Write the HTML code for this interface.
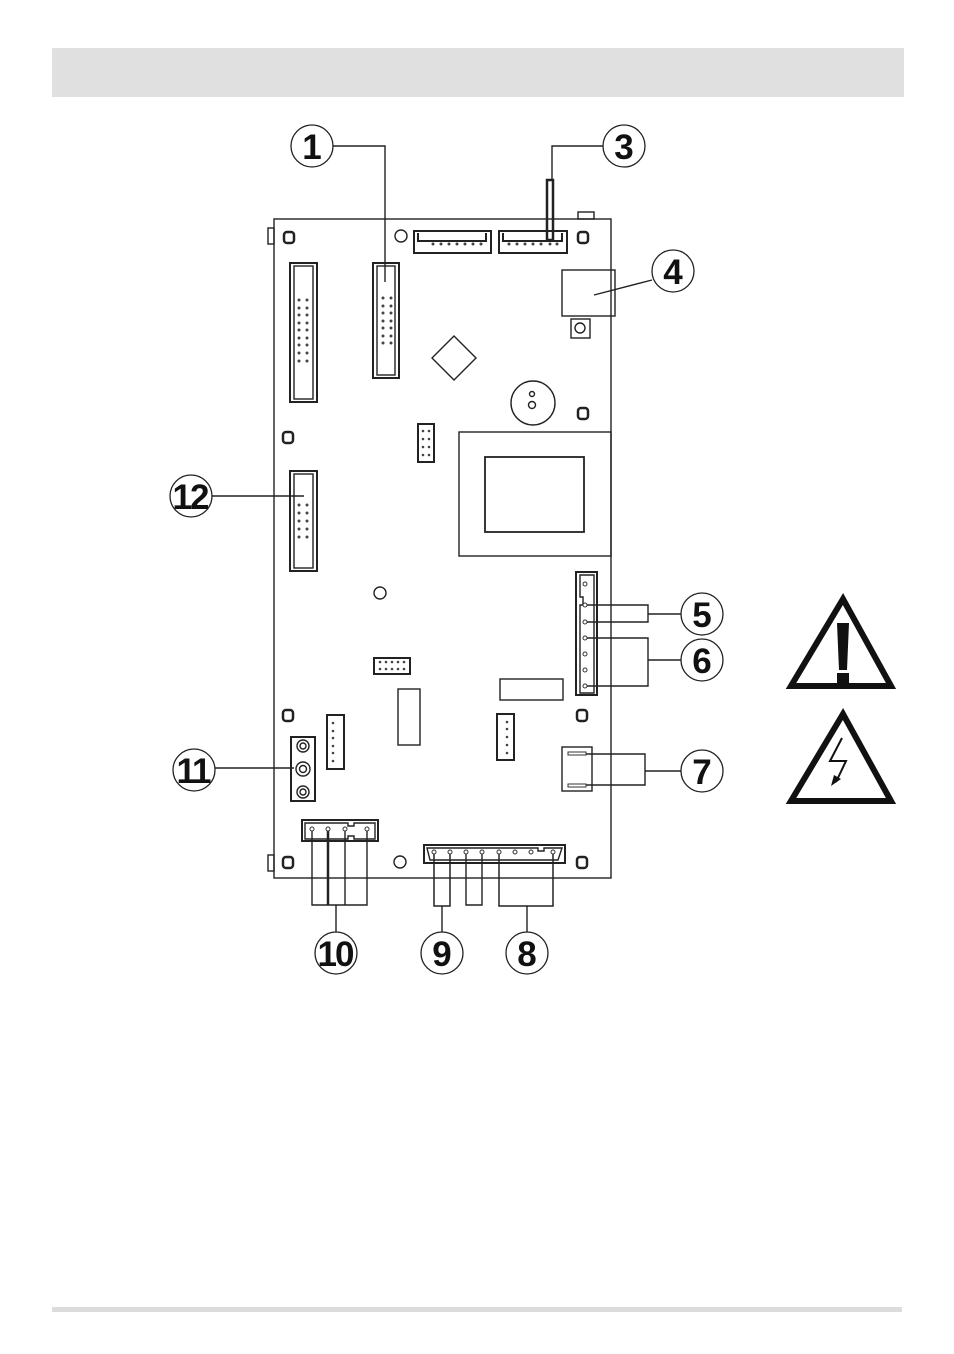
<!DOCTYPE html>
<html><head><meta charset="utf-8"><style>
html,body{margin:0;padding:0;background:#fff;}
svg{display:block;}
text{font-family:"Liberation Sans",sans-serif;font-weight:bold;}
</style></head><body>
<svg width="954" height="1354" viewBox="0 0 954 1354" xmlns="http://www.w3.org/2000/svg">
<rect x="52" y="48" width="852" height="49" fill="#e0e0e0"/>
<rect x="52" y="1307" width="850" height="5" fill="#dcdcdc"/>
<g fill="none" stroke="#222" stroke-width="1.4">
<rect x="274" y="219" width="337" height="659" fill="#fff"/>
<rect x="578" y="212" width="16" height="7"/>
<rect x="268" y="228" width="6" height="16"/>
<rect x="268" y="855" width="6" height="16"/>
<g stroke-width="2.5">
<rect x="284" y="232" width="10" height="11" rx="3"/>
<rect x="578" y="232" width="10" height="11" rx="3"/>
<rect x="578" y="408" width="10" height="11" rx="3"/>
<rect x="283" y="432" width="10" height="11" rx="3"/>
<rect x="283" y="710" width="10" height="11" rx="3"/>
<rect x="577" y="710" width="10" height="11" rx="3"/>
<rect x="283" y="857" width="10" height="11" rx="3"/>
<rect x="577" y="857" width="10" height="11" rx="3"/>
</g>
<circle cx="401" cy="236" r="6"/>
<circle cx="380" cy="593" r="6"/>
<circle cx="400" cy="862" r="6"/>
<path d="M414 231h77v22h-77z M418 233v8h68v-8" stroke-width="2"/>
<path d="M499 231h68v22h-68z M503 233v8h59v-8" stroke-width="2"/>
<rect x="547" y="180" width="6" height="60" stroke-width="2.5"/>
<polyline points="603,146 552,146 552,180"/>
<rect x="290" y="263" width="27" height="139" stroke-width="2"/>
<rect x="294" y="266" width="19" height="133"/>
<rect x="373" y="263" width="26" height="115" stroke-width="2"/>
<rect x="377" y="266" width="18" height="109"/>
<rect x="290" y="471" width="27" height="100" stroke-width="2"/>
<rect x="294" y="474" width="19" height="94"/>
<polyline points="333,146 385,146 385,282"/>
<rect x="562" y="270" width="53" height="46"/>
<rect x="571" y="319" width="19" height="19"/>
<circle cx="580" cy="328" r="5"/>
<line x1="594" y1="295" x2="652" y2="280"/>
<polygon points="454,336 476,358 454,380 432,358"/>
<circle cx="533" cy="403" r="22"/>
<circle cx="532" cy="394" r="2.5"/>
<circle cx="532" cy="405" r="3.5"/>
<rect x="418" y="424" width="16" height="38" stroke-width="2"/>
<rect x="459" y="432" width="152" height="124"/>
<rect x="485" y="457" width="99" height="75" stroke-width="1.8"/>
<line x1="212" y1="496" x2="304" y2="496"/>
<path d="M576 572h21v123h-21z" stroke-width="2"/>
<path d="M580 575h14v118h-14v-88h3v-8h-3z"/>
<polyline points="584,605 648,605 648,622 584,622"/>
<line x1="648" y1="614" x2="681" y2="614"/>
<polyline points="584,638 648,638 648,686 584,686"/>
<line x1="648" y1="660" x2="681" y2="660"/>
<rect x="500" y="679" width="63" height="21"/>
<rect x="374" y="658" width="36" height="16" stroke-width="2"/>
<rect x="398" y="689" width="22" height="56"/>
<rect x="327" y="715" width="17" height="54" stroke-width="2"/>
<rect x="497" y="714" width="17" height="46" stroke-width="2"/>
<rect x="562" y="747" width="30" height="44"/>
<polyline points="568,754 645,754 645,785 568,785"/>
<line x1="645" y1="771" x2="681" y2="771"/>
<rect x="291" y="737" width="24" height="64" stroke-width="2"/>
<circle cx="303" cy="746" r="6"/><circle cx="303" cy="746" r="3"/>
<circle cx="303" cy="769" r="7"/><circle cx="303" cy="769" r="3.5"/>
<circle cx="303" cy="792" r="6"/><circle cx="303" cy="792" r="3"/>
<line x1="215" y1="768" x2="294" y2="768"/>
<path d="M302 820h76v21h-76z" stroke-width="2"/>
<path d="M305 823h43v3h6v-3h21v16h-21v-3h-6v3h-43z"/>
<polyline points="312,829 312,905 367,905 367,829"/>
<line x1="328" y1="829" x2="328" y2="905" stroke-width="2.5"/>
<line x1="345" y1="829" x2="345" y2="905"/>
<line x1="336" y1="905" x2="336" y2="932"/>
<path d="M424 845h141v18h-141z" stroke-width="2"/>
<path d="M427 848h111v3h6v-3h18l-4 12h-128z"/>
<polyline points="434,852 434,906 450,906 450,852" stroke-width="1.5"/>
<polyline points="466,852 466,905 482,905 482,852"/>
<polyline points="499,852 499,906 553,906 553,852" stroke-width="1.5"/>
<line x1="442" y1="906" x2="442" y2="932"/>
<line x1="527" y1="906" x2="527" y2="932"/>
</g>
<g fill="#444">
<circle cx="299" cy="300" r="1.5"/><circle cx="307" cy="300" r="1.5"/>
<circle cx="299" cy="308" r="1.5"/><circle cx="307" cy="308" r="1.5"/>
<circle cx="299" cy="315" r="1.5"/><circle cx="307" cy="315" r="1.5"/>
<circle cx="299" cy="323" r="1.5"/><circle cx="307" cy="323" r="1.5"/>
<circle cx="299" cy="330" r="1.5"/><circle cx="307" cy="330" r="1.5"/>
<circle cx="299" cy="338" r="1.5"/><circle cx="307" cy="338" r="1.5"/>
<circle cx="299" cy="345" r="1.5"/><circle cx="307" cy="345" r="1.5"/>
<circle cx="299" cy="353" r="1.5"/><circle cx="307" cy="353" r="1.5"/>
<circle cx="299" cy="361" r="1.5"/><circle cx="307" cy="361" r="1.5"/>
<circle cx="383" cy="298" r="1.5"/><circle cx="391" cy="298" r="1.5"/>
<circle cx="383" cy="306" r="1.5"/><circle cx="391" cy="306" r="1.5"/>
<circle cx="383" cy="313" r="1.5"/><circle cx="391" cy="313" r="1.5"/>
<circle cx="383" cy="321" r="1.5"/><circle cx="391" cy="321" r="1.5"/>
<circle cx="383" cy="328" r="1.5"/><circle cx="391" cy="328" r="1.5"/>
<circle cx="383" cy="336" r="1.5"/><circle cx="391" cy="336" r="1.5"/>
<circle cx="383" cy="343" r="1.5"/><circle cx="391" cy="343" r="1.5"/>
<circle cx="299" cy="505" r="1.5"/><circle cx="307" cy="505" r="1.5"/>
<circle cx="299" cy="513" r="1.5"/><circle cx="307" cy="513" r="1.5"/>
<circle cx="299" cy="521" r="1.5"/><circle cx="307" cy="521" r="1.5"/>
<circle cx="299" cy="529" r="1.5"/><circle cx="307" cy="529" r="1.5"/>
<circle cx="299" cy="537" r="1.5"/><circle cx="307" cy="537" r="1.5"/>
<circle cx="433" cy="244" r="1.5"/><circle cx="441" cy="244" r="1.5"/><circle cx="449" cy="244" r="1.5"/><circle cx="457" cy="244" r="1.5"/><circle cx="465" cy="244" r="1.5"/><circle cx="473" cy="244" r="1.5"/><circle cx="481" cy="244" r="1.5"/>
<circle cx="509" cy="244" r="1.5"/><circle cx="517" cy="244" r="1.5"/><circle cx="525" cy="244" r="1.5"/><circle cx="533" cy="244" r="1.5"/><circle cx="541" cy="244" r="1.5"/><circle cx="550" cy="244" r="1.5"/><circle cx="557" cy="244" r="1.5"/>
<circle cx="423" cy="431" r="1.3"/><circle cx="429" cy="431" r="1.3"/>
<circle cx="423" cy="439" r="1.3"/><circle cx="429" cy="439" r="1.3"/>
<circle cx="423" cy="447" r="1.3"/><circle cx="429" cy="447" r="1.3"/>
<circle cx="423" cy="455" r="1.3"/><circle cx="429" cy="455" r="1.3"/>
<circle cx="380" cy="662" r="1.3"/><circle cx="386" cy="662" r="1.3"/><circle cx="392" cy="662" r="1.3"/><circle cx="398" cy="662" r="1.3"/><circle cx="404" cy="662" r="1.3"/>
<circle cx="380" cy="669" r="1.3"/><circle cx="386" cy="669" r="1.3"/><circle cx="392" cy="669" r="1.3"/><circle cx="398" cy="669" r="1.3"/><circle cx="404" cy="669" r="1.3"/>
<circle cx="333" cy="723" r="1.3"/><circle cx="333" cy="731" r="1.3"/><circle cx="333" cy="738" r="1.3"/><circle cx="333" cy="746" r="1.3"/><circle cx="333" cy="753" r="1.3"/><circle cx="333" cy="761" r="1.3"/>
<circle cx="507" cy="722" r="1.3"/><circle cx="507" cy="729" r="1.3"/><circle cx="507" cy="737" r="1.3"/><circle cx="507" cy="745" r="1.3"/><circle cx="507" cy="753" r="1.3"/>
</g>
<g fill="#fff" stroke="#333" stroke-width="1">
<circle cx="585" cy="584" r="2"/><circle cx="585" cy="605" r="2"/><circle cx="585" cy="622" r="2"/><circle cx="585" cy="638" r="2"/><circle cx="585" cy="654" r="2"/><circle cx="585" cy="670" r="2"/><circle cx="585" cy="686" r="2"/>
<circle cx="312" cy="829" r="2"/><circle cx="328" cy="829" r="2"/><circle cx="345" cy="829" r="2"/><circle cx="367" cy="829" r="2"/>
<circle cx="434" cy="852" r="2"/><circle cx="450" cy="852" r="2"/><circle cx="466" cy="852" r="2"/><circle cx="482" cy="852" r="2"/><circle cx="499" cy="852" r="2"/><circle cx="515" cy="852" r="2"/><circle cx="531" cy="852" r="2"/><circle cx="553" cy="852" r="2"/>
<rect x="568" y="752" width="18" height="3"/><rect x="568" y="784" width="18" height="3"/>
</g>
<g fill="#fff" stroke="#222" stroke-width="1.3">
<circle cx="312" cy="146" r="21"/><circle cx="624" cy="146" r="21"/><circle cx="673" cy="271" r="21"/>
<circle cx="702" cy="614" r="21"/><circle cx="702" cy="660" r="21"/><circle cx="702" cy="771" r="21"/>
<circle cx="194" cy="770" r="21"/><circle cx="191" cy="496" r="21"/>
<circle cx="336" cy="953" r="21"/><circle cx="442" cy="953" r="21"/><circle cx="527" cy="953" r="21"/>
</g>
<g font-size="35" text-anchor="middle" fill="#111">
<text x="312" y="159">1</text><text x="624" y="159">3</text><text x="673" y="284">4</text>
<text x="702" y="627">5</text><text x="702" y="673">6</text><text x="702" y="784">7</text>
<text x="442" y="966">9</text><text x="527" y="966">8</text>
</g>
<g font-size="35" text-anchor="middle" fill="#111" letter-spacing="-2">
<text x="193" y="783">11</text><text x="190" y="509">12</text>
<text x="335" y="966">10</text>
</g>
<polygon points="843,599 791,686 891,686" fill="none" stroke="#111" stroke-width="6"/>
<path d="M837 623h12l-2 47h-8z" fill="#111"/>
<rect x="837" y="673" width="12" height="10" fill="#111"/>
<polygon points="843,714 791,801 891,801" fill="none" stroke="#111" stroke-width="6"/>
<path d="M842 738l-12 23h16l-10 21" fill="none" stroke="#111" stroke-width="2"/>
<polygon points="831,786 841,779 834,775" fill="#111"/>
</svg>
</body></html>
